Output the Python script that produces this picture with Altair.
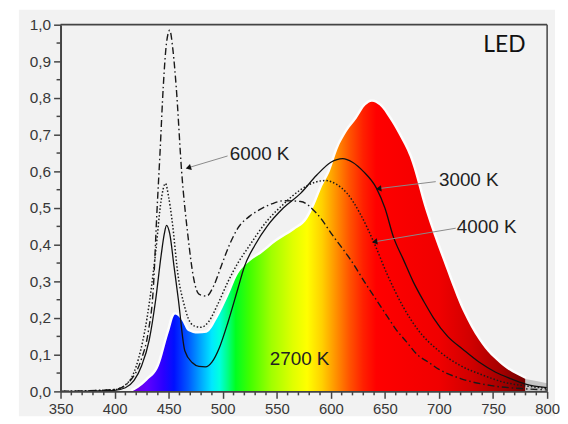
import altair as alt
import pandas as pd

# ---------------- data ----------------
wl_2700 = [416, 422, 430, 441, 450, 456, 462, 468, 477, 485, 495, 505, 514, 525, 535, 550,
           566, 578, 585, 592, 599, 606, 615, 624, 632, 638, 645, 654, 663, 673, 688, 706,
           722, 737, 759, 780]
v_2700 = [0.0, 0.01, 0.03, 0.07, 0.16, 0.21, 0.195, 0.165, 0.158, 0.16, 0.20, 0.26, 0.32,
          0.355, 0.375, 0.41, 0.44, 0.47, 0.51, 0.56, 0.60, 0.66, 0.71, 0.745, 0.78, 0.79,
          0.78, 0.745, 0.70, 0.64, 0.49, 0.34, 0.22, 0.14, 0.07, 0.034]

wl_tail = [780, 790, 800]
v_tail = [0.034, 0.028, 0.022]

wl_3000 = [350, 400, 410, 418, 425, 432, 438, 443, 446, 448, 451, 455, 459, 465, 472, 478,
           484, 490, 497, 505, 514, 520, 530, 541, 556, 572, 587, 600, 611, 620, 630, 642,
           650, 658, 667, 676, 686, 695, 708, 722, 737, 752, 766, 780, 800]
v_3000 = [0.0, 0.003, 0.01, 0.03, 0.07, 0.14, 0.25, 0.37, 0.43, 0.453, 0.43, 0.34, 0.25,
          0.11, 0.078, 0.068, 0.067, 0.08, 0.12, 0.19, 0.28, 0.34, 0.40, 0.45, 0.50, 0.54,
          0.59, 0.625, 0.635, 0.625, 0.60, 0.555, 0.50, 0.42, 0.36, 0.30, 0.245, 0.20,
          0.15, 0.115, 0.08, 0.053, 0.035, 0.02, 0.01]

wl_4000 = [350, 400, 413, 422, 430, 438, 443, 447, 450, 453, 459, 464, 468, 474, 480, 487,
           495, 505, 514, 523, 541, 556, 572, 585, 595, 605, 615, 627, 640, 652, 667, 680,
           700, 720, 740, 760, 780, 800]
v_4000 = [0.0, 0.005, 0.026, 0.088, 0.2, 0.38, 0.52, 0.567, 0.53, 0.47, 0.31, 0.24, 0.20,
          0.178, 0.175, 0.19, 0.235, 0.30, 0.35, 0.39, 0.465, 0.51, 0.55, 0.57, 0.575, 0.565,
          0.54, 0.485, 0.405, 0.32, 0.23, 0.17, 0.11, 0.07, 0.045, 0.025, 0.015, 0.008]

wl_6000 = [350, 400, 416, 425, 431, 436, 439, 442, 445, 448, 451, 454, 457, 462, 468, 473,
           478, 485, 492, 499, 507, 514, 525, 535, 546, 557, 572, 587, 603, 618, 633, 642,
           652, 660, 670, 680, 690, 700, 720, 750, 780, 800]
v_6000 = [0.0, 0.005, 0.035, 0.09, 0.16, 0.29, 0.48, 0.65, 0.83, 0.95, 0.985, 0.93, 0.83,
          0.60, 0.42, 0.31, 0.265, 0.26, 0.29, 0.345, 0.405, 0.445, 0.478, 0.497, 0.512,
          0.52, 0.518, 0.485, 0.42, 0.36, 0.29, 0.25, 0.205, 0.17, 0.135, 0.10, 0.08, 0.06,
          0.035, 0.015, 0.007, 0.004]

# spectrum colours of the 2700 K fill
spec_wl = [416, 430, 445, 455, 468, 480, 490, 497, 505, 512, 525, 545, 565, 578, 592, 605,
           618, 630, 642, 700, 730, 760, 780]
spec_col = ["#7000d0", "#6000ff", "#2a00ff", "#0010ff", "#0058ff", "#00a8ff", "#00e8ff",
            "#00ffe0", "#00ff80", "#00ff20", "#40ff00", "#a0ff00", "#e0ff00", "#ffff00",
            "#ffd000", "#ff9000", "#ff5000", "#ff2000", "#ff0000", "#f00000", "#d00000",
            "#a00000", "#700000"]

x_major = [350, 400, 450, 500, 550, 600, 650, 700, 750, 800]
x_minor = [v for v in range(360, 800, 10) if v % 50 != 0]
y_major = [0.0, 0.1, 0.2, 0.3, 0.4, 0.5, 0.6, 0.7, 0.8, 0.9, 1.0]
y_minor = [0.05, 0.15, 0.25, 0.35, 0.45, 0.55, 0.65, 0.75, 0.85, 0.95]

lbl_text = ["6000 K", "3000 K", "4000 K", "2700 K"]
lbl_x = [506.5, 700.0, 716.5, 543.5]
lbl_y = [0.648, 0.575, 0.448, 0.088]

arr_x0 = [468.2, 644.2, 640.5]
arr_y0 = [0.61, 0.553, 0.408]
arr_x1 = [504.5, 697.0, 715.5]
arr_y1 = [0.642, 0.572, 0.445]
arr_ang = [343, 353, 350]

W, H = 491, 370
FONT = "Liberation Sans"

xs = alt.Scale(domain=[350, 800], nice=False, zero=False)
ys = alt.Scale(domain=[0, 1.0], nice=False, zero=False)
xaxis = alt.Axis(values=x_major, format="d", title=None, grid=False, tickSize=7,
                 tickWidth=1.5, tickColor="#444", domainColor="#444", domainWidth=2,
                 labelFont=FONT, labelFontSize=15, labelColor="#383838", labelPadding=3,
                 labelFlush=False, zindex=1)
yaxis = alt.Axis(values=y_major, labelExpr="replace(format(datum.value, '.1f'), '.', ',')",
                 title=None, grid=False, tickSize=7, tickWidth=1.5, tickColor="#444",
                 domainColor="#444", domainWidth=2, labelFont=FONT, labelFontSize=15.5,
                 labelColor="#383838", labelPadding=3, labelFlush=False, zindex=1)


def X(f, **kw):
    return alt.X(f, type="quantitative", scale=xs, axis=xaxis, **kw)


def Y(f, **kw):
    return alt.Y(f, type="quantitative", scale=ys, axis=yaxis, **kw)


d2700 = pd.DataFrame({"wl": wl_2700, "v": v_2700})
dtail = pd.DataFrame({"wl": wl_tail, "v": v_tail})
d3000 = pd.DataFrame({"wl": wl_3000, "v": v_3000})
d4000 = pd.DataFrame({"wl": wl_4000, "v": v_4000})
d6000 = pd.DataFrame({"wl": wl_6000, "v": v_6000})

lo, hi = min(wl_2700), max(wl_2700)
stops = [alt.GradientStop(offset=(w - lo) / (hi - lo), color=c) for w, c in zip(spec_wl, spec_col)]
grad = alt.LinearGradient(gradient="linear", stops=stops, x1=0, x2=1, y1=0, y2=0)

bg = alt.Chart(pd.DataFrame({"k": [0]})).mark_rect(color="#f2f2f2").encode(
    x=alt.value(-42), x2=alt.value(W + 8), y=alt.value(-15), y2=alt.value(H + 25))

halo = alt.Chart(d2700).mark_line(color="white", strokeWidth=5, opacity=0.8,
                                  interpolate="monotone").encode(x=X("wl"), y=Y("v"))
area = alt.Chart(d2700).mark_area(color=grad, interpolate="monotone").encode(x=X("wl"), y=Y("v"))
tail = alt.Chart(dtail).mark_area(color="#c4c4c4").encode(x=X("wl"), y=Y("v"))

l6000 = alt.Chart(d6000).mark_line(color="#1a1a1a", strokeWidth=1.4, strokeDash=[7, 3, 1.5, 3],
                                   interpolate="monotone").encode(x=X("wl"), y=Y("v"))
l4000 = alt.Chart(d4000).mark_line(color="#1a1a1a", strokeWidth=1.5, strokeDash=[1.5, 2],
                                   interpolate="monotone").encode(x=X("wl"), y=Y("v"))
l3000 = alt.Chart(d3000).mark_line(color="#111", strokeWidth=1.3,
                                   interpolate="monotone").encode(x=X("wl"), y=Y("v"))

ymin = alt.Chart(pd.DataFrame({"v": y_minor})).mark_rule(color="#444", strokeWidth=1.5).encode(
    y=Y("v"), x=alt.value(-4), x2=alt.value(0))
xmin = alt.Chart(pd.DataFrame({"wl": x_minor})).mark_rule(color="#444", strokeWidth=1.5).encode(
    x=X("wl"), y=alt.value(H), y2=alt.value(H + 4))

frame_top = alt.Chart(pd.DataFrame({"a": [350], "b": [800], "v": [1.0]})).mark_rule(
    color="#444", strokeWidth=1.8).encode(x=X("a"), x2="b", y=Y("v"))
frame_right = alt.Chart(pd.DataFrame({"wl": [800], "a": [0.0], "b": [1.0]})).mark_rule(
    color="#444", strokeWidth=1.5).encode(x=X("wl"), y=Y("a"), y2="b")

darr = pd.DataFrame({"x0": arr_x0, "y0": arr_y0, "x1": arr_x1, "y1": arr_y1, "ang": arr_ang})
arr_lines = alt.Chart(darr).mark_rule(color="#8a8a8a", strokeWidth=1).encode(
    x=X("x0"), y=Y("y0"), x2="x1", y2="y1")
arr_heads = alt.Chart(darr).mark_point(shape="triangle-left", filled=True, color="#111",
                                       size=40, opacity=1).encode(
    x=X("x0"), y=Y("y0"), angle=alt.Angle("ang", scale=None))

dlbl = pd.DataFrame({"t": lbl_text, "x": lbl_x, "y": lbl_y})
labels = alt.Chart(dlbl).mark_text(align="left", baseline="middle", font=FONT, fontSize=19,
                                   color="#222").encode(x=X("x"), y=Y("y"), text="t")
led = alt.Chart(pd.DataFrame({"t": ["LED"], "x": [741.0], "y": [0.945]})).mark_text(
    align="left", baseline="middle", font="Lato", fontSize=23, color="#111").encode(
    x=X("x"), y=Y("y"), text="t")

chart = alt.layer(bg, halo, area, tail, l6000, l4000, l3000, ymin, xmin, frame_top,
                  frame_right, arr_lines, arr_heads, labels, led).properties(
    width=W, height=H, background="white",
    autosize=alt.AutoSizeParams(type="none"),
    padding={"left": 53, "top": 15, "right": 13, "bottom": 25},
).configure_view(stroke=None, fill="#f2f2f2")

chart.save("out.html", embed_options={"renderer": "svg", "actions": False})
